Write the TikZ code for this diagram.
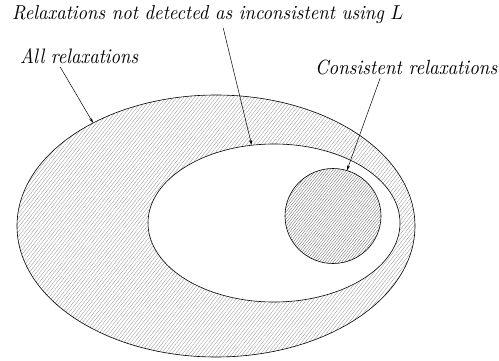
\documentclass[tikz,border=0pt]{standalone}
\usepackage{graphicx}
\usetikzlibrary{patterns.meta,arrows.meta,shapes.geometric}
\begin{document}
\begin{tikzpicture}[x=1pt,y=-1pt,
  lab/.style={font=\itshape, inner sep=0pt, anchor=base west},
  setshape/.style={ellipse, draw=black, line width=0.6pt, inner sep=0pt},
  hatch/.style={pattern={Lines[angle=52,distance=2.8pt,line width=0.3pt]}, pattern color=black!45},
  densehatch/.style={pattern={Lines[angle=52,distance=2.2pt,line width=0.3pt]}, pattern color=black!65},
  pointer/.style={-{Stealth[length=5pt,width=3pt]}, line width=0.5pt}]
\useasboundingbox (0,0) rectangle (499,360);
\node[setshape, hatch, minimum width=398pt, minimum height=262pt] (all) at (216,226) {};
\node[setshape, fill=white, minimum width=252pt, minimum height=158pt] (undet) at (274,223) {};
\node[setshape, densehatch, minimum width=96pt, minimum height=95pt] (cons) at (333,216) {};
\node[lab] (topL) at (12,19) {\resizebox{391pt}{14pt}{Relaxations not detected as inconsistent using $L$}};
\node[lab] (allL) at (20,63) {\resizebox{118pt}{15pt}{All relaxations}};
\node[lab] (consL) at (315,74) {\resizebox{182pt}{14.5pt}{Consistent relaxations}};
\draw[pointer] ([xshift=15.5pt,yshift=-9pt]topL.base) -- (undet.106);
\draw[pointer] ([xshift=-19pt,yshift=-4pt]allL.base) -- (all.140.9);
\draw[pointer] ([xshift=-26pt,yshift=-4pt]consL.base) -- (cons.73.7);
\end{tikzpicture}
\end{document}
